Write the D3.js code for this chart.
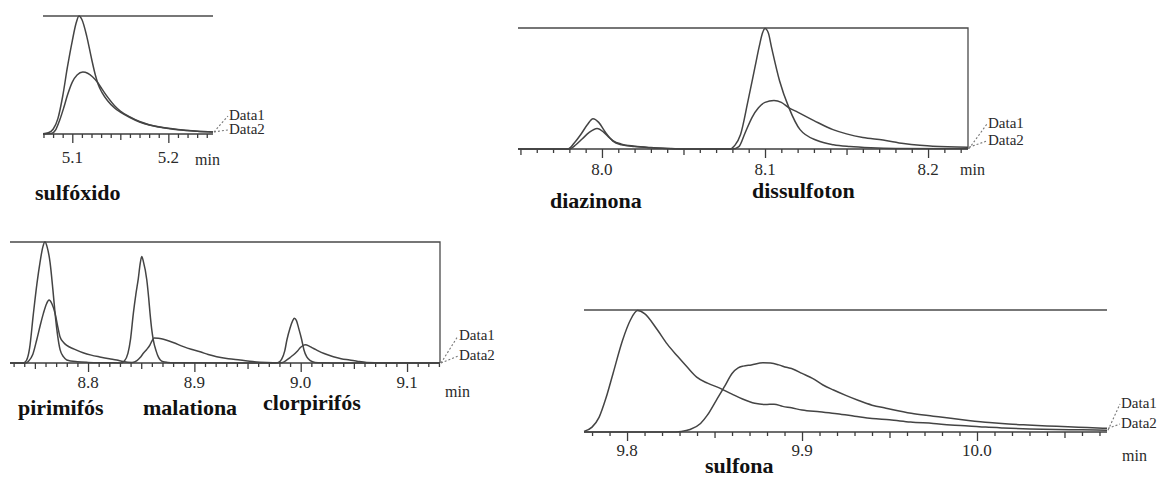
<!DOCTYPE html>
<html>
<head>
<meta charset="utf-8">
<script src="https://cdn.jsdelivr.net/npm/d3@7"></script>
<style>
  body { margin: 0; background: #fff; }
  svg { display: block; }
</style>
</head>
<body>
<svg id="chart" width="1175" height="479"></svg>
<script>
// Retention time (min) vs. relative detector response (% of full scale).

// --- sulfóxido ---
const sulfoxidoNames = ["sulfóxido"];
const sulfoxidoTicks = [5.1, 5.2];
const sulfoxidoData1 = [[5.0695,0.3],[5.075,1],[5.080,4],[5.085,13],[5.090,32],[5.095,57],[5.100,79],[5.104,94],[5.107,100],[5.110,97],[5.115,83],[5.120,64],[5.124,50],[5.127,42],[5.131,35],[5.137,28],[5.144,22],[5.150,18.5],[5.160,14],[5.170,10.2],[5.180,7.6],[5.190,5.9],[5.200,4.6],[5.210,3.6],[5.220,2.9],[5.230,2.3],[5.2465,1.7]];
const sulfoxidoData2 = [[5.0695,0],[5.078,0.5],[5.083,4],[5.087,12],[5.091,22],[5.095,33],[5.100,44],[5.105,50],[5.111,52.5],[5.116,51.5],[5.121,48.5],[5.126,44],[5.131,38],[5.137,31],[5.144,24],[5.150,19.5],[5.160,14.5],[5.170,10.6],[5.180,7.9],[5.190,6.1],[5.200,4.8],[5.210,3.8],[5.220,3],[5.230,2.4],[5.2465,1.8]];

// --- diazinona / dissulfoton ---
const dissulfotonNames = ["diazinona", "dissulfoton"];
const dissulfotonTicks = [8.0, 8.1, 8.2];
const dissulfotonData1 = [[7.9485,0],[7.979,0],[7.983,5],[7.987,12],[7.991,20],[7.9945,25],[7.998,22],[8.002,14],[8.0067,6.5],[8.012,3.5],[8.020,2],[8.030,1],[8.040,0.4],[8.050,0],[8.078,0],[8.0815,3],[8.085,12],[8.0896,40],[8.0939,68],[8.0965,85],[8.0985,96],[8.100,99.5],[8.102,96],[8.104,84],[8.109,56],[8.1147,34],[8.1215,16],[8.132,7],[8.142,3.5],[8.152,2],[8.165,1],[8.180,0.5],[8.2245,0.3]];
const dissulfotonData2 = [[7.9485,0],[7.980,0],[7.984,3.5],[7.988,8.5],[7.992,13.5],[7.997,17],[8.001,14],[8.004,10],[8.0067,7],[8.012,4],[8.020,2.3],[8.030,1.2],[8.040,0.5],[8.050,0],[8.080,0],[8.084,2],[8.0877,13],[8.092,26],[8.096,34],[8.100,38.5],[8.1055,40],[8.110,38.5],[8.1147,34],[8.120,30.5],[8.130,23.5],[8.1417,16],[8.150,12.5],[8.160,9.5],[8.1724,7.4],[8.185,4.5],[8.195,3],[8.203,2.2],[8.2245,1.5]];

// --- pirimifós / malationa / clorpirifós ---
const clorpirifosNames = ["pirimifós", "malationa", "clorpirifós"];
const clorpirifosTicks = [8.8, 8.9, 9.0, 9.1];
const clorpirifosData1 = [[8.7266,0],[8.739,0],[8.742,2],[8.745,12],[8.7485,40],[8.752,66],[8.7548,83],[8.7575,96],[8.7595,100],[8.7615,96],[8.7643,83],[8.767,60],[8.769,41],[8.7715,22],[8.7737,11],[8.777,5],[8.780,2.5],[8.790,1],[8.800,0.5],[8.820,0.2],[8.831,0],[8.834,1.5],[8.8375,8],[8.840,20],[8.8426,41],[8.845,57],[8.8473,70],[8.849,82],[8.8505,88],[8.852,84],[8.8552,69],[8.857,54],[8.8583,41],[8.860,27],[8.8614,19],[8.864,10],[8.8661,5],[8.868,2.5],[8.8708,1],[8.875,0.5],[8.880,0.2],[8.976,0],[8.979,0.5],[8.982,3],[8.985,10],[8.987,19],[8.990,29],[8.9925,35],[8.994,37],[8.996,35],[8.998,29],[9.001,19],[9.003,11],[9.0057,5],[9.009,2],[9.0135,0.5],[9.020,0.2],[9.040,0],[9.131,0]];
const clorpirifosData2 = [[8.7266,0],[8.741,0],[8.744,1.5],[8.748,7],[8.7517,19],[8.755,31],[8.758,41],[8.761,49],[8.7633,52],[8.766,49],[8.769,41],[8.7715,30],[8.7737,21.5],[8.777,17],[8.780,14.5],[8.787,11.5],[8.7953,8.5],[8.803,6.5],[8.811,5],[8.820,3.5],[8.827,2.5],[8.833,1.2],[8.8414,0.5],[8.846,2],[8.849,4.5],[8.852,8],[8.855,11],[8.8583,15],[8.860,18],[8.862,20.7],[8.866,20.5],[8.870,19.8],[8.874,18.8],[8.880,17],[8.8897,13.5],[8.897,11.3],[8.9054,9.3],[8.913,7],[8.921,5.2],[8.932,3.5],[8.943,2.5],[8.955,1.2],[8.968,0.5],[8.980,0.3],[8.983,0.5],[8.987,2.5],[8.990,4.5],[8.993,6.6],[8.997,10],[9.000,13],[9.0041,15],[9.008,14],[9.011,12.5],[9.015,10.7],[9.022,7.8],[9.0307,5.2],[9.038,3.6],[9.046,2.5],[9.054,1.3],[9.062,0.5],[9.080,0.2],[9.131,0]];

// --- sulfona ---
const sulfonaNames = ["sulfona"];
const sulfonaTicks = [9.8, 9.9, 10.0];
const sulfonaData1 = [[9.7754,0.5],[9.780,4],[9.784,12],[9.788,28],[9.792,48],[9.7974,75],[9.802,92],[9.806,99.5],[9.810,97],[9.8172,84],[9.823,72],[9.8289,62],[9.8345,53],[9.8398,45],[9.846,40],[9.853,36],[9.860,31],[9.866,27],[9.873,23.5],[9.879,22.5],[9.884,22.8],[9.889,21],[9.894,19.8],[9.900,18],[9.910,16.5],[9.920,15],[9.930,13],[9.940,11],[9.950,10],[9.962,8.2],[9.975,7],[9.985,5.8],[9.995,5],[10.005,4],[10.015,3.3],[10.030,2.5],[10.045,2],[10.060,1.8],[10.0743,1.5]];
const sulfonaData2 = [[9.7754,0],[9.825,0],[9.831,0.5],[9.836,2],[9.842,7],[9.846,14],[9.851,26],[9.856,38],[9.860,48],[9.8635,52.5],[9.8664,54],[9.871,55],[9.8777,56.8],[9.882,56.5],[9.8867,55],[9.891,53],[9.895,51.5],[9.900,48],[9.906,44],[9.912,38.5],[9.918,34.4],[9.925,30],[9.932,26],[9.940,22],[9.948,19.5],[9.9624,15.3],[9.975,13],[9.985,11.2],[9.995,9.5],[10.007,7.7],[10.018,6.5],[10.029,5.7],[10.040,5],[10.052,4.4],[10.063,3.6],[10.0743,3]];

const seriesLabels = ["Data1", "Data2"];
const unitLabel = "min";

// Panel layout (pixels)
const panels = [
  { d1: sulfoxidoData1, d2: sulfoxidoData2, ticks: sulfoxidoTicks, names: sulfoxidoNames,
    domain: [5.0695, 5.2465], x0: 43, x1: 213, top: 16, base: 134, frame: false,
    tickDy: 29, unit: [195, 165], legendX: 229, legendDy: [-14, 0],
    nameXY: [[35, 200]] },
  { d1: dissulfotonData1, d2: dissulfotonData2, ticks: dissulfotonTicks, names: dissulfotonNames,
    domain: [7.9485, 8.2245], x0: 518, x1: 968, top: 28, base: 149, frame: true,
    tickDy: 26, unit: [960, 175], legendX: 988, legendDy: [-21, -4],
    nameXY: [[550, 208], [752, 198]] },
  { d1: clorpirifosData1, d2: clorpirifosData2, ticks: clorpirifosTicks, names: clorpirifosNames,
    domain: [8.7266, 9.131], x0: 10, x1: 440, top: 242, base: 363, frame: true,
    tickDy: 25, unit: [445, 397], legendX: 459, legendDy: [-23, -3],
    nameXY: [[18, 415], [143, 415], [263, 410]] },
  { d1: sulfonaData1, d2: sulfonaData2, ticks: sulfonaTicks, names: sulfonaNames,
    domain: [9.7754, 10.0743], x0: 584, x1: 1107, top: 310, base: 432, frame: false,
    tickDy: 24, unit: [1122, 461], legendX: 1121, legendDy: [-24, -4],
    nameXY: [[705, 473]] }
];

const svg = d3.select("#chart");
const serif = "Liberation Serif, Times New Roman, serif";
const ink = "#3c3c3c";

panels.forEach(p => {
  const x = d3.scaleLinear().domain(p.domain).range([p.x0, p.x1]);
  const y = d3.scaleLinear().domain([0, 100]).range([p.base, p.top]);
  const g = svg.append("g");

  // Full-scale line (and right frame edge where present)
  const framePath = p.frame
    ? `M${p.x0},${p.top}H${p.x1}V${p.base}`
    : `M${p.x0},${p.top}H${p.x1}`;
  g.append("path").attr("d", framePath)
    .attr("fill", "none").attr("stroke", "#4a4a4a").attr("stroke-width", 1.3);

  // Time axis: minor (0.01), mid (0.05) and major (0.1) ticks
  const lo = Math.ceil(p.domain[0] * 100 - 1e-6), hi = Math.floor(p.domain[1] * 100 + 1e-6);
  const all = d3.range(lo, hi + 1);
  const minor = all.filter(i => i % 5 !== 0).map(i => i / 100);
  const mid = all.filter(i => i % 5 === 0 && i % 10 !== 0).map(i => i / 100);
  const major = all.filter(i => i % 10 === 0).map(i => i / 100);

  const drawTicks = (vals, size) => {
    const a = g.append("g").attr("transform", `translate(0,${p.base})`)
      .call(d3.axisBottom(x).tickValues(vals).tickSize(size).tickSizeOuter(0).tickFormat(""));
    a.select(".domain").remove();
    a.selectAll("line").attr("stroke", ink).attr("stroke-width", 1.3);
  };
  drawTicks(minor, 4);
  drawTicks(mid, 6);
  drawTicks(major, 9);

  g.append("line").attr("x1", p.x0).attr("x2", p.x1)
    .attr("y1", p.base).attr("y2", p.base)
    .attr("stroke", ink).attr("stroke-width", 1.6);

  // Major tick labels
  g.selectAll("text.tick").data(p.ticks).join("text")
    .attr("x", d => x(d)).attr("y", p.base + p.tickDy)
    .attr("text-anchor", "middle")
    .style("font-family", serif).attr("font-size", 17).attr("fill", "#2a2a2a")
    .text(d => d3.format(".1f")(d));

  g.append("text").attr("x", p.unit[0]).attr("y", p.unit[1])
    .style("font-family", serif).attr("font-size", 16).attr("fill", "#2a2a2a")
    .text(unitLabel);

  // Chromatogram traces
  const line = d3.line().x(d => x(d[0])).y(d => y(d[1])).curve(d3.curveMonotoneX);
  [p.d2, p.d1].forEach(d => {
    g.append("path").datum(d).attr("d", line)
      .attr("fill", "none").attr("stroke", "#444").attr("stroke-width", 1.5)
      .attr("stroke-linejoin", "round");
  });

  // Trace labels with dotted leaders
  const endX = x(p.domain[1]);
  [p.d1, p.d2].forEach((d, i) => {
    const ly = p.base + p.legendDy[i];
    const ey = y(d[d.length - 1][1]);
    g.append("line").attr("x1", endX + 1).attr("y1", ey)
      .attr("x2", p.legendX - 1).attr("y2", ly - 4)
      .attr("stroke", "#777").attr("stroke-width", 1.1).attr("stroke-dasharray", "2,2");
    g.append("text").attr("x", p.legendX).attr("y", ly)
      .style("font-family", serif).attr("font-size", 15).attr("fill", "#2a2a2a")
      .text(seriesLabels[i]);
  });

  // Compound names
  p.names.forEach((n, i) => {
    g.append("text").attr("x", p.nameXY[i][0]).attr("y", p.nameXY[i][1])
      .style("font-family", serif).attr("font-size", 22).attr("font-weight", "bold")
      .attr("fill", "#111").text(n);
  });
});
</script>
</body>
</html>
